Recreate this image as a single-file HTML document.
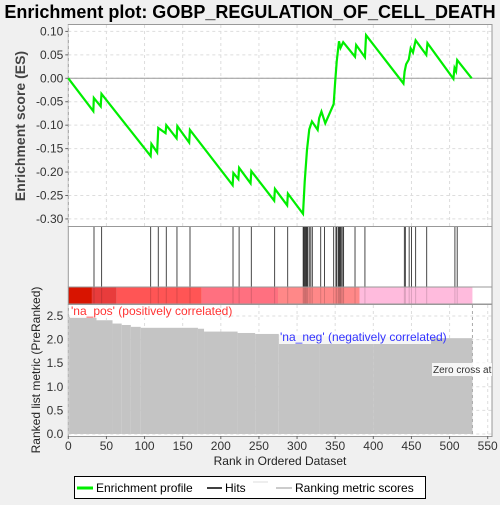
<!DOCTYPE html>
<html><head><meta charset="utf-8"><style>
body{margin:0;background:#f0f0f0;font-family:"Liberation Sans","DejaVu Sans",sans-serif;}
svg text{font-family:"Liberation Sans","DejaVu Sans",sans-serif;}
</style></head><body>
<svg id="c" width="500" height="500" viewBox="0 0 500 500" xmlns="http://www.w3.org/2000/svg">
<defs><clipPath id="botClip"><rect x="68" y="304" width="424" height="133"/></clipPath></defs>
<rect width="500" height="500" fill="#f0f0f0"/>
<text x="250" y="18" text-anchor="middle" font-size="18" font-weight="bold" fill="#000">Enrichment plot: GOBP_REGULATION_OF_CELL_DEATH</text>
<g id="topG"></g><g id="hitsG"></g><g id="barG"></g><g id="botG"></g>
<text transform="translate(25,126) rotate(-90)" text-anchor="middle" font-size="14" font-weight="bold" fill="#444">Enrichment score (ES)</text>
<text transform="translate(40,370) rotate(-90)" text-anchor="middle" font-size="12" fill="#222">Ranked list metric (PreRanked)</text>
<text x="280" y="465" text-anchor="middle" font-size="12" fill="#222">Rank in Ordered Dataset</text>
<g>
<rect x="74.5" y="476.5" width="351" height="22" fill="#fff" stroke="#000"/>
<line x1="77" y1="488" x2="93" y2="488" stroke="#00ee00" stroke-width="3"/>
<text x="96" y="492" font-size="12">Enrichment profile</text>
<line x1="207" y1="488" x2="222" y2="488" stroke="#000" stroke-width="1.5"/>
<text x="225" y="492" font-size="12">Hits</text>
<line x1="253" y1="482" x2="268" y2="482" stroke="#ddd"/>
<line x1="276" y1="488" x2="292" y2="488" stroke="#bbb" stroke-width="1.5"/>
<text x="295" y="492" font-size="12">Ranking metric scores</text>
</g>
</svg>
<script>
const esRanks=[0,32.8,33.5,42.5,43.5,108,109,116.5,118,127.5,128.5,142,143,158.5,159.5,215.5,216.5,223,224,239,240,270,271,287,288,307.8,310,313,316,319.5,327,329,332,337,348,350,352,355,357,360.5,376,377.5,389,390.5,439.5,441,443,446.5,449,452,455.5,469.5,471,505,506.5,508.5,510,529];
const esValues=[0,-0.070,-0.042,-0.060,-0.033,-0.166,-0.140,-0.158,-0.106,-0.117,-0.100,-0.128,-0.102,-0.137,-0.110,-0.228,-0.202,-0.215,-0.191,-0.224,-0.198,-0.261,-0.236,-0.271,-0.246,-0.289,-0.221,-0.153,-0.109,-0.092,-0.110,-0.085,-0.071,-0.096,-0.055,-0.007,0.036,0.079,0.065,0.077,0.046,0.071,0.045,0.092,-0.011,0.014,0.030,0.040,0.064,0.055,0.081,0.050,0.075,-0.001,0.022,0.015,0.039,0];
const hitRanks=[33.7,43.7,108,118,128.5,142.5,159.6,216,224,240,270.6,287.7,308,309,310,311,312,313,314,316,318,320,331,336,348,351,352,354,355,356,357,358,360,361,376,389,440.7,442,447,450,455.5,470,507,510];
const metricStarts=[0,1,37,58,70,82,95,170,178,222,245,276,330,400,475];
const metricValues=[2.62,2.48,2.41,2.34,2.31,2.27,2.25,2.23,2.17,2.14,2.12,2.10,2.07,2.05,2.03];
const colorStarts=[0,31,63.5,175,275,382];
const colorFills=["#d81400","#e83c3c","#ff5555","#ff7080","#ff8888","#ffbbdd"];
const xTicks=[0,50,100,150,200,250,300,350,400,450,500,550];
const esTicks=[0.10,0.05,0.00,-0.05,-0.10,-0.15,-0.20,-0.25,-0.30];
const mTicks=[0.0,0.5,1.0,1.5,2.0,2.5];
const N=530;
const NS="http://www.w3.org/2000/svg";
const L=68.3,R=492;
const X=r=>L+r*(487.7-L)/550;
const YE=v=>78.3-v*468.75;
const YM=v=>434-v*47.2;
function mk(p,t,a){const e=document.createElementNS(NS,t);for(const k in a)e.setAttribute(k,a[k]);p.appendChild(e);return e;}
const topG=document.getElementById('topG'),hitsG=document.getElementById('hitsG'),barG=document.getElementById('barG'),botG=document.getElementById('botG');
const tp=mk(topG,'rect',{x:L,y:24.5,width:R-L,height:202,fill:'#fff',stroke:'#999'});


xTicks.forEach(t=>{mk(topG,'line',{x1:X(t),x2:X(t),y1:25,y2:226,stroke:'#ddd','stroke-dasharray':'3,3'});});
esTicks.forEach(t=>{mk(topG,'line',{x1:L,x2:R,y1:YE(t),y2:YE(t),stroke:'#ddd','stroke-dasharray':'3,3'});
 const tx=mk(topG,'text',{x:L-5,y:YE(t)+4,'text-anchor':'end','font-size':12,fill:'#333'});tx.textContent=t.toFixed(2);
 
 
 mk(topG,'line',{x1:L-3,x2:L,y1:YE(t),y2:YE(t),stroke:'#666'});});
mk(topG,'line',{x1:L,x2:R,y1:YE(0),y2:YE(0),stroke:'#999'});
const pl=mk(topG,'polyline',{points:esRanks.map((r,i)=>X(r)+','+YE(esValues[i])).join(' '),fill:'none',stroke:'#00ee00','stroke-width':2.2});


const hp=mk(hitsG,'rect',{x:L,y:226.5,width:R-L,height:60.5,fill:'#fff',stroke:'#999'});


hitRanks.forEach(r=>{const l=mk(hitsG,'line',{x1:X(r),x2:X(r),y1:227,y2:287,stroke:'#333','stroke-width':0.9});
 
 });
colorStarts.forEach((s,i)=>{const e=i<colorStarts.length-1?colorStarts[i+1]:N;
 const r=mk(barG,'rect',{x:X(s),y:287,width:X(e)-X(s),height:17,fill:colorFills[i]});
 
 });
mk(barG,'rect',{x:X(N),y:287,width:R-X(N),height:17,fill:'#fff'});
hitRanks.forEach(r=>mk(barG,'line',{x1:X(r),x2:X(r),y1:287,y2:304,stroke:'#000','stroke-opacity':0.15}));
mk(barG,'rect',{x:L,y:287,width:R-L,height:17,fill:'none',stroke:'#999'});
const bp=mk(botG,'rect',{x:L,y:304.5,width:R-L,height:132,fill:'#fff',stroke:'#999'});


xTicks.forEach(t=>{mk(botG,'line',{x1:X(t),x2:X(t),y1:305,y2:436,stroke:'#ddd','stroke-dasharray':'3,3'});
 mk(botG,'line',{x1:X(t),x2:X(t),y1:436,y2:439,stroke:'#666'});
 const tx=mk(botG,'text',{x:X(t),y:450,'text-anchor':'middle','font-size':12,fill:'#333'});tx.textContent=t;
 
 });
mTicks.forEach(t=>{mk(botG,'line',{x1:L,x2:R,y1:YM(t),y2:YM(t),stroke:'#ddd','stroke-dasharray':'3,3'});
 const tx=mk(botG,'text',{x:L-5,y:YM(t)+4,'text-anchor':'end','font-size':12,fill:'#333'});tx.textContent=t.toFixed(1);
 
 });
metricStarts.forEach((s,i)=>{const e=i<metricStarts.length-1?metricStarts[i+1]:N;
 const r=mk(botG,'rect',{x:X(s),y:YM(metricValues[i]),width:X(e)-X(s),height:YM(0)-YM(metricValues[i]),fill:'#c4c4c4'});
 
 });
mk(botG,'line',{x1:X(N),x2:X(N),y1:305,y2:436,stroke:'#aaa','stroke-dasharray':'3,3'});
const clipG=mk(botG,'g',{'clip-path':'url(#botClip)'});
function lab(x,y,w,txt,col,name,fs){mk(clipG,'rect',{x:x,y:y-10,width:w,height:13,fill:'#fff','fill-opacity':0.85});
 const t=mk(clipG,'text',{x:x+1,y:y,'font-size':fs,fill:col});t.textContent=txt;
 
 }
lab(70,315,148,"'na_pos' (positively correlated)",'#ff3333','na-pos-label',12);
lab(279,341,152,"'na_neg' (negatively correlated)",'#3333ff','na-neg-label',12);
lab(432,373,62,"Zero cross at 530",'#333','zero-cross-label',10);
</script>
</body></html>
